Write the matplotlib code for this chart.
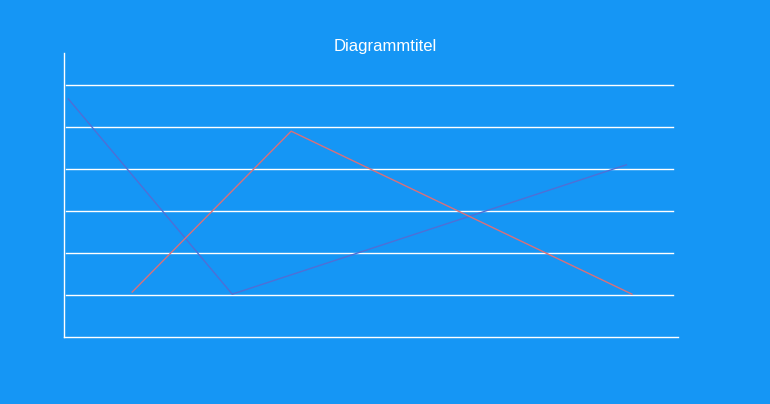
import matplotlib
matplotlib.use("Agg")
import matplotlib.pyplot as plt

# chart values (x in axis units 0..10, y in gridline units)
blue_x = [0.07, 2.74, 9.16]
blue_y = [5.67, 1.02, 4.10]
red_x = [1.11, 3.70, 9.25]
red_y = [1.07, 4.90, 1.02]
grid_levels = [1, 2, 3, 4, 5, 6]

bg = "#1596F5"

fig = plt.figure(figsize=(7.7, 4.04), dpi=100, facecolor=bg)
ax = fig.add_axes([64/770, (404-337)/404, 614/770, (337-53)/404], facecolor=bg)

ax.set_xlim(0, 10)
ax.set_ylim(0, (337-53)/42)

#gridlines stop a bit short of the right edge
for g in grid_levels:
    ax.axhline(g, xmin=0.004, xmax=(673-64)/614, color="white", lw=1, zorder=1)

ax.plot(blue_x, blue_y, color="#4F6FD6", lw=1, zorder=3)
ax.plot(red_x, red_y, color="#D9707A", lw=1, zorder=3)

for s in ["top", "right"]:
    ax.spines[s].set_visible(False)
ax.spines["left"].set_color("white")
ax.spines["bottom"].set_color("white")
ax.spines["left"].set_linewidth(1)
ax.spines["bottom"].set_linewidth(1)
ax.set_xticks([])
ax.set_yticks([])

fig.text(385/770, 1-46/404, "Diagrammtitel", color="white", fontsize=12,
         family="Liberation Sans", ha="center", va="center")

fig.savefig("out.png", dpi=100, facecolor=bg)
